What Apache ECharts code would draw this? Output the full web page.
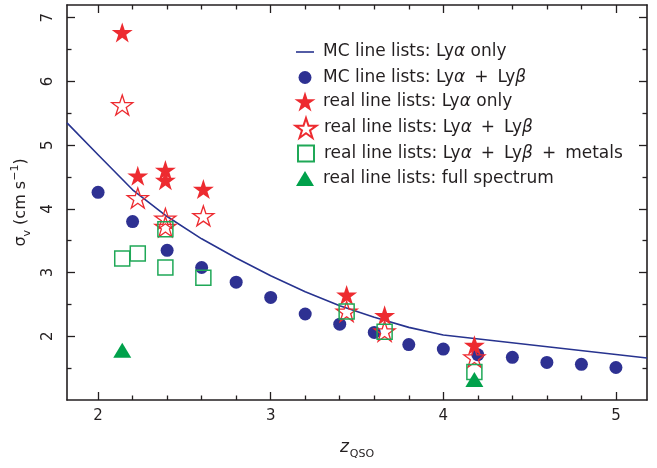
<!DOCTYPE html>
<html><head><meta charset="utf-8">
<script src="https://cdn.jsdelivr.net/npm/echarts@6/dist/echarts.min.js"></script>
<style>html,body{margin:0;padding:0;background:#fff}#c{width:657px;height:468px}</style>
</head><body><div id="c"></div>
<script>
// ---- tick values ----
const xTicks = [2, 3, 4, 5];
const xMinorTicks = [2.2, 2.4, 2.6, 2.8, 3.2, 3.4, 3.6, 3.8, 4.2, 4.4, 4.6, 4.8];
const yTicks = [2, 3, 4, 5, 6, 7];
const yMinorTicks = [1.5, 2.5, 3.5, 4.5, 5.5, 6.5];

// ---- MC line lists: Lya only (curve) ----
const mcLineZ     = [1.82, 2.0, 2.2, 2.4, 2.6, 2.8, 3.0, 3.2, 3.4, 3.6, 3.8, 4.0, 5.18];
const mcLineSigma = [5.35, 4.85, 4.30, 3.88, 3.53, 3.23, 2.95, 2.70, 2.48, 2.30, 2.14, 2.02, 1.66];

// ---- MC line lists: Lya + Lyb (dots) ----
const mcDotsZ     = [2.0, 2.2, 2.4, 2.6, 2.8, 3.0, 3.2, 3.4, 3.6, 3.8, 4.0, 4.2, 4.4, 4.6, 4.8, 5.0];
const mcDotsSigma = [4.26, 3.80, 3.35, 3.08, 2.85, 2.61, 2.35, 2.19, 2.06, 1.87, 1.80, 1.71, 1.67, 1.59, 1.56, 1.51];

// ---- real line lists ----
const realZ           = [2.14, 2.23, 2.39, 2.39, 2.61, 3.44, 3.66, 4.18];
const realLyaSigma    = [6.77, 4.52, 4.61, 4.45, 4.31, 2.65, 2.33, 1.86];
const realLyabSigma   = [5.63, 4.17, 3.85, 3.72, 3.89, 2.39, 2.08, 1.67];
const realMetalsSigma = [3.22, 3.30, 3.68, 3.08, 2.92, 2.39, 2.07, 1.44];
const fullZ           = [2.14, 4.18];
const fullSigma       = [1.78, 1.32];

const seriesNames = [
  'MC line lists: Lyα only',
  'MC line lists: Lyα + Lyβ',
  'real line lists: Lyα only',
  'real line lists: Lyα + Lyβ',
  'real line lists: Lyα + Lyβ + metals',
  'real line lists: full spectrum'
];

const pair = (xs, ys) => xs.map((x, i) => [x, ys[i]]);

const FONT = 'DejaVu Sans';
const AX = '#231f20';
const RED = '#ed2b30';
const BLUE = '#2e3192';
const GREEN = '#1fa857';
const LINEC = '#27338f';
const STAR = 'path://M0,-10 L2.245,-3.09 L9.511,-3.09 L3.633,1.18 L5.878,8.09 L0,3.82 L-5.878,8.09 L-3.633,1.18 L-9.511,-3.09 L-2.245,-3.09 Z';

const XMIN = 1.82, XMAX = 5.18, YMIN = 1.0, YMAX = 7.2;

function xAx(pos, major, labels, extra) {
  return Object.assign({
    type: 'value', position: pos, min: XMIN, max: XMAX,
    axisLine: { show: major, onZero: false, lineStyle: { color: AX, width: 1.6 } },
    axisTick: { show: true, inside: true, length: major ? 8 : 4.5,
      customValues: major ? xTicks : xMinorTicks, lineStyle: { color: AX, width: 1.3 } },
    axisLabel: { show: labels, customValues: xTicks, fontFamily: FONT, fontSize: 15, color: AX, margin: 9 },
    splitLine: { show: false }
  }, extra || {});
}
function yAx(pos, major, labels, extra) {
  return Object.assign({
    type: 'value', position: pos, min: YMIN, max: YMAX,
    axisLine: { show: major, onZero: false, lineStyle: { color: AX, width: 1.6 } },
    axisTick: { show: true, inside: true, length: major ? 8 : 4.5,
      customValues: major ? yTicks : yMinorTicks, lineStyle: { color: AX, width: 1.3 } },
    axisLabel: { show: labels, customValues: yTicks, rotate: 90, fontFamily: FONT, fontSize: 15, color: AX, margin: 11 },
    splitLine: { show: false }
  }, extra || {});
}

const LH = 14;
const legendRows = [
  { name: seriesNames[0], w: 18, h: 1.6, cy: 50.5, icon: 'rect' },
  { name: seriesNames[1], w: 13, h: 13, cy: 76 },
  { name: seriesNames[2], w: 21, h: 20, cy: 101.5 },
  { name: seriesNames[3], w: 21, h: 20, cy: 127 },
  { name: seriesNames[4], w: 16, h: 16, cy: 152.5 },
  { name: seriesNames[5], w: 18, h: 15, cy: 177.5 }
];
const ICON_CX = 305, TEXT_X = 323;

const legends = legendRows.map(r => ({
  data: [r.icon ? { name: r.name, icon: r.icon } : r.name], orient: 'vertical', padding: 0,
  left: ICON_CX - r.w / 2, top: r.cy - Math.max(r.h, LH) / 2,
  itemWidth: r.w, itemHeight: r.h, selectedMode: false,
  formatter: n => n.replace(/ \+ /g, '{p|+}').replace(/α/g, '{i|α}').replace(/β/g, '{i|β}'),
  textStyle: {
    fontFamily: FONT, fontSize: 17, color: AX, lineHeight: LH,
    padding: [0, 0, 0, TEXT_X - (ICON_CX + r.w / 2 + 5)],
    rich: {
      i: { fontFamily: FONT, fontSize: 17, fontStyle: 'italic', color: AX, lineHeight: LH },
      p: { fontFamily: FONT, fontSize: 17, color: AX, lineHeight: LH, padding: [0, 9, 0, 9] }
    }
  }
}));

const chart = echarts.init(document.getElementById('c'), null, { renderer: 'canvas' });
chart.setOption({
  animation: false,
  backgroundColor: '#fff',
  grid: { left: 67, right: 10, top: 5, bottom: 68, containLabel: false },
  legend: legends,
  xAxis: [
    xAx('bottom', true, true, {
      name: '{z|z}{s|QSO}', nameLocation: 'middle', nameGap: 39,
      nameTextStyle: { rich: {
        z: { fontFamily: FONT, fontSize: 17, fontStyle: 'italic', color: AX, verticalAlign: 'bottom' },
        s: { fontFamily: FONT, fontSize: 11, color: AX, verticalAlign: 'bottom', padding: [0, 0, -4, 1] }
      } }
    }),
    xAx('bottom', false, false),
    xAx('top', true, false),
    xAx('top', false, false)
  ],
  yAxis: [
    yAx('left', true, true, {
      name: '{a|σ}{b|v}{a| (cm s}{c|−1}{a|)}', nameLocation: 'middle', nameRotate: 90, nameGap: 37,
      nameTextStyle: { rich: {
        a: { fontFamily: FONT, fontSize: 16, color: AX, verticalAlign: 'bottom' },
        b: { fontFamily: FONT, fontSize: 11, color: AX, verticalAlign: 'bottom', padding: [0, 0, -4, 0] },
        c: { fontFamily: FONT, fontSize: 11, color: AX, verticalAlign: 'top', padding: [-3, 0, 0, 0] }
      } }
    }),
    yAx('left', false, false),
    yAx('right', true, false),
    yAx('right', false, false)
  ],
  series: [
    { name: seriesNames[0], type: 'line', data: pair(mcLineZ, mcLineSigma), symbol: 'none',
      lineStyle: { color: LINEC, width: 1.6 }, itemStyle: { color: LINEC }, z: 2, clip: true },
    { name: seriesNames[1], type: 'scatter', data: pair(mcDotsZ, mcDotsSigma), symbol: 'circle', symbolSize: 13,
      itemStyle: { color: BLUE, opacity: 1 }, z: 3 },
    { name: seriesNames[2], type: 'scatter', data: pair(realZ, realLyaSigma), symbol: STAR, symbolSize: [21, 20],
      itemStyle: { color: RED, opacity: 1 }, z: 4 },
    { name: seriesNames[3], type: 'scatter', data: pair(realZ, realLyabSigma), symbol: STAR, symbolSize: [21, 20],
      itemStyle: { color: 'rgba(255,255,255,0)', borderColor: RED, borderWidth: 1.3, opacity: 1 }, z: 5 },
    { name: seriesNames[4], type: 'scatter', data: pair(realZ, realMetalsSigma), symbol: 'rect', symbolSize: 15,
      itemStyle: { color: 'rgba(255,255,255,0)', borderColor: GREEN, borderWidth: 1.5, opacity: 1 }, z: 6 },
    { name: seriesNames[5], type: 'scatter', data: pair(fullZ, fullSigma), symbol: 'triangle', symbolSize: [18, 15],
      itemStyle: { color: '#00a14b', opacity: 1 }, z: 7 }
  ]
});
</script></body></html>
